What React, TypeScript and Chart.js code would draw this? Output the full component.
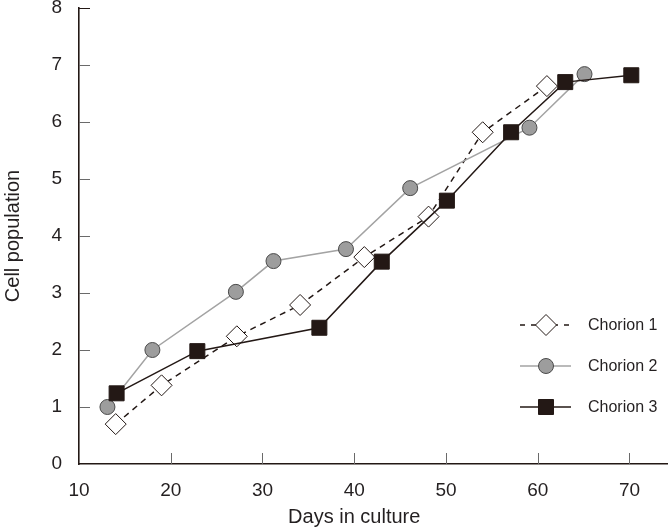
import React, { useEffect, useRef } from 'react';
import { Chart, registerables } from 'chart.js';

Chart.register(...registerables);

const seriesLabels = ['Chorion 1', 'Chorion 2', 'Chorion 3'];

const chorion1Days = [14, 19, 27.2, 34.1, 41.1, 48.1, 54, 61];
const chorion1Values = [0.7, 1.38, 2.24, 2.79, 3.63, 4.34, 5.82, 6.63];

const chorion2Days = [13.1, 18, 27.1, 31.2, 39.1, 46.1, 59.1, 65.1];
const chorion2Values = [1.0, 2.0, 3.02, 3.56, 3.77, 4.84, 5.9, 6.84];

const chorion3Days = [14.1, 22.9, 36.2, 43, 50.1, 57.1, 63, 70.2];
const chorion3Values = [1.24, 1.98, 2.39, 3.55, 4.62, 5.82, 6.7, 6.82];

const xTickValues = [10, 20, 30, 40, 50, 60, 70];
const yTickValues = [0, 1, 2, 3, 4, 5, 6, 7, 8];

const xTitle = 'Days in culture';
const yTitle = 'Cell population';

const FONT = "'Liberation Sans', Arial, sans-serif";
const TEXT = '#231f20';
const BLACK = '#231815';
const GRAY_LINE = '#a3a3a3';
const GRAY_FILL = '#9d9d9d';
const GRAY_EDGE = '#4a4a4a';

const zip = (xs: number[], ys: number[]) => xs.map((x, i) => ({ x, y: ys[i] }));

function drawMarker(ctx: CanvasRenderingContext2D, kind: number, x: number, y: number) {
  ctx.save();
  ctx.setLineDash([]);
  ctx.beginPath();
  if (kind === 0) {
    const r = 10.5;
    ctx.moveTo(x, y - r);
    ctx.lineTo(x + r, y);
    ctx.lineTo(x, y + r);
    ctx.lineTo(x - r, y);
    ctx.closePath();
    ctx.fillStyle = '#ffffff';
    ctx.strokeStyle = BLACK;
    ctx.lineWidth = 1;
  } else if (kind === 1) {
    ctx.arc(x, y, 7.5, 0, Math.PI * 2);
    ctx.fillStyle = GRAY_FILL;
    ctx.strokeStyle = GRAY_EDGE;
    ctx.lineWidth = 1;
  } else {
    ctx.rect(x - 7.5, y - 7.5, 15, 15);
    ctx.fillStyle = BLACK;
    ctx.strokeStyle = BLACK;
    ctx.lineWidth = 1;
  }
  ctx.fill();
  ctx.stroke();
  ctx.restore();
}

const decorPlugin = {
  id: 'decor',
  beforeDatasetsDraw(chart: any) {
    const ctx = chart.ctx as CanvasRenderingContext2D;
    const xs = chart.scales.x;
    const ys = chart.scales.y;
    const { left, bottom } = chart.chartArea;
    ctx.save();
    ctx.lineWidth = 1;
    ctx.strokeStyle = '#6a6a6a';
    xTickValues.slice(1).forEach((v) => {
      const px = Math.round(xs.getPixelForValue(v)) + 0.5;
      ctx.beginPath();
      ctx.moveTo(px, bottom);
      ctx.lineTo(px, bottom - 11);
      ctx.stroke();
    });
    yTickValues.slice(1).forEach((v) => {
      const py = Math.round(ys.getPixelForValue(v)) + 0.5;
      ctx.strokeStyle = v === 8 ? BLACK : '#6a6a6a';
      ctx.beginPath();
      ctx.moveTo(left, py);
      ctx.lineTo(left + 11, py);
      ctx.stroke();
    });
    ctx.restore();
  },
  afterDraw(chart: any) {
    const ctx = chart.ctx as CanvasRenderingContext2D;
    const xs = chart.scales.x;
    const { top, bottom } = chart.chartArea;
    ctx.save();
    ctx.fillStyle = TEXT;
    ctx.font = `20px ${FONT}`;
    ctx.textAlign = 'center';
    ctx.textBaseline = 'middle';
    ctx.fillText(xTitle, xs.getPixelForValue(40), 517);
    ctx.save();
    ctx.translate(13, (top + bottom) / 2);
    ctx.rotate(-Math.PI / 2);
    ctx.fillText(yTitle, 0, 0);
    ctx.restore();

    // legend
    const rows = [325, 366, 407];
    ctx.font = `16px ${FONT}`;
    ctx.textAlign = 'left';
    seriesLabels.forEach((label, i) => {
      const y = rows[i];
      ctx.save();
      ctx.beginPath();
      ctx.lineWidth = 1.5;
      if (i === 0) {
        ctx.strokeStyle = BLACK;
        ctx.setLineDash([5, 6]);
      } else if (i === 1) {
        ctx.strokeStyle = GRAY_LINE;
      } else {
        ctx.strokeStyle = BLACK;
      }
      ctx.moveTo(520, y);
      ctx.lineTo(571, y);
      ctx.stroke();
      ctx.restore();
      drawMarker(ctx, i, 546, y);
      ctx.fillStyle = TEXT;
      ctx.fillText(label, 588, y + 1);
    });
    ctx.restore();
  },
};

export default function App() {
  const canvasRef = useRef<HTMLCanvasElement | null>(null);

  useEffect(() => {
    if (!canvasRef.current) return;
    const chart = new Chart(canvasRef.current, {
      type: 'line',
      data: {
        datasets: [
          {
            label: seriesLabels[0],
            data: zip(chorion1Days, chorion1Values),
            borderColor: BLACK,
            borderWidth: 1.5,
            borderDash: [6, 5],
            pointStyle: 'rectRot',
            pointRadius: 10.5,
            pointBackgroundColor: '#ffffff',
            pointBorderColor: BLACK,
            pointBorderWidth: 1,
            order: 3,
            tension: 0,
            clip: false,
          },
          {
            label: seriesLabels[1],
            data: zip(chorion2Days, chorion2Values),
            borderColor: GRAY_LINE,
            borderWidth: 1.5,
            pointStyle: 'circle',
            pointRadius: 7.5,
            pointBackgroundColor: GRAY_FILL,
            pointBorderColor: GRAY_EDGE,
            pointBorderWidth: 1,
            order: 2,
            tension: 0,
            clip: false,
          },
          {
            label: seriesLabels[2],
            data: zip(chorion3Days, chorion3Values),
            borderColor: BLACK,
            borderWidth: 1.5,
            pointStyle: 'rect',
            pointRadius: 10.6,
            pointBackgroundColor: BLACK,
            pointBorderColor: BLACK,
            pointBorderWidth: 1,
            order: 1,
            tension: 0,
            clip: false,
          },
        ],
      },
      options: {
        animation: false,
        responsive: true,
        maintainAspectRatio: false,
        layout: { autoPadding: false, padding: { top: 8, right: 0, left: 0, bottom: 0 } },
        plugins: {
          legend: { display: false },
          tooltip: { enabled: false },
        },
        scales: {
          x: {
            type: 'linear',
            min: 10,
            max: 74.2,
            afterBuildTicks: (scale: any) => {
              scale.ticks = xTickValues.map((v) => ({ value: v }));
            },
            afterFit: (scale: any) => {
              scale.height = 68;
              scale.paddingLeft = 0;
              scale.paddingRight = 0;
              scale.paddingTop = 0;
              scale.paddingBottom = 0;
            },
            grid: { display: true, drawOnChartArea: false, drawTicks: false },
            border: { display: true, color: BLACK, width: 1.6 },
            ticks: {
              padding: 15,
              color: TEXT,
              font: { family: FONT, size: 19 },
              maxRotation: 0,
              autoSkip: false,
            },
          },
          y: {
            type: 'linear',
            min: 0,
            max: 8,
            afterBuildTicks: (scale: any) => {
              scale.ticks = yTickValues.map((v) => ({ value: v }));
            },
            afterFit: (scale: any) => {
              scale.width = 79;
              scale.paddingLeft = 0;
              scale.paddingRight = 0;
              scale.paddingTop = 0;
              scale.paddingBottom = 0;
            },
            grid: { display: true, drawOnChartArea: false, drawTicks: false },
            border: { display: true, color: BLACK, width: 1.6 },
            ticks: {
              padding: 17,
              color: TEXT,
              font: { family: FONT, size: 19 },
            },
          },
        },
      },
      plugins: [decorPlugin],
    });
    return () => chart.destroy();
  }, []);

  return (
    <div style={{ position: 'absolute', left: 0, top: 0, width: 668, height: 532 }}>
      <canvas ref={canvasRef} />
    </div>
  );
}
